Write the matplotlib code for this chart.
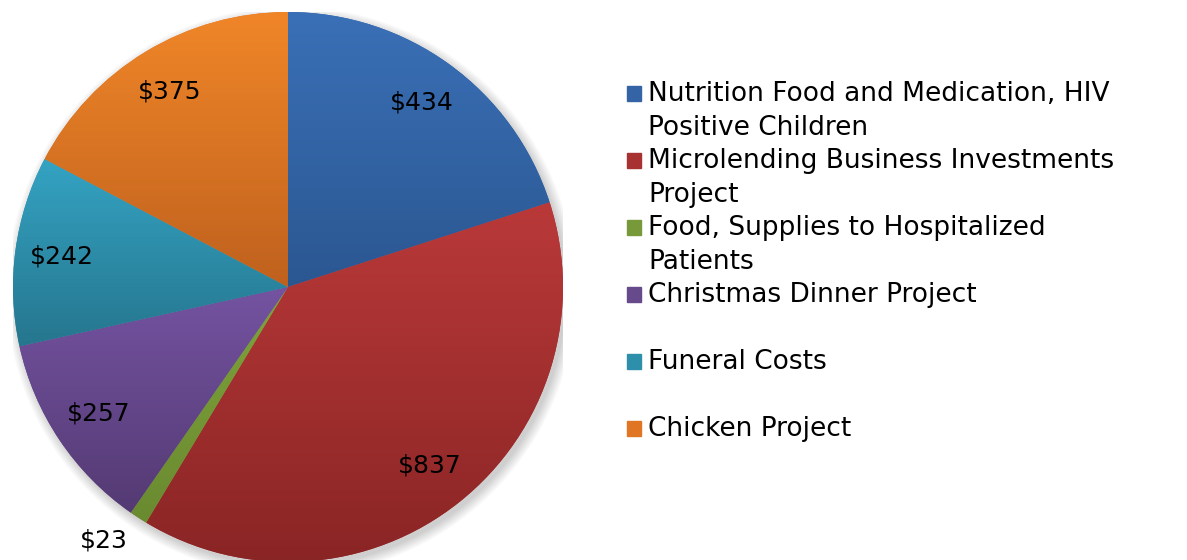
import numpy as np
import matplotlib
matplotlib.use("Agg")
import matplotlib.pyplot as plt
from matplotlib.colors import LinearSegmentedColormap
from matplotlib.patches import Rectangle, Circle

# data
labels = ["Nutrition Food and Medication, HIV\nPositive Children",
          "Microlending Business Investments\nProject",
          "Food, Supplies to Hospitalized\nPatients",
          "Christmas Dinner Project",
          "Funeral Costs",
          "Chicken Project"]
values = [434, 837, 23, 257, 242, 375]
tops = ["#3a70b7", "#ba3939", "#7ea33b", "#7453a1", "#34a3c3", "#f08628"]
bottoms = ["#2b5791", "#8a2525", "#6a8a30", "#543a73", "#26768e", "#bf611e"]
mids = ["#3464a6", "#a83232", "#77993a", "#664a8c", "#2d8faa", "#e07624"]

W, H = 1187, 560
fig = plt.figure(figsize=(W / 100, H / 100), dpi=100)
cx, cy, R = 288, 560 - 287, 275
ax = fig.add_axes([(cx - R) / W, (cy - R) / H, 2 * R / W, 2 * R / H])
ax.set_xlim(-1, 1)
ax.set_ylim(-1, 1)
ax.set_aspect("equal")
ax.axis("off")

# soft shadow
for i in range(8):
    ax.add_patch(Circle((0.012, -0.016), 1.0 + 0.005 * i, color="black",
                        alpha=0.025, lw=0, zorder=0))

wedges, _ = ax.pie(values, startangle=90, counterclock=False, radius=1,
                   colors=mids, wedgeprops=dict(linewidth=0))

grad = np.linspace(0, 1, 256).reshape(-1, 1)
for w, c0, c1 in zip(wedges, tops, bottoms):
    w.set_zorder(1)
    ext = w.get_path().get_extents()
    cmap = LinearSegmentedColormap.from_list("g", [c1, c0])
    im = ax.imshow(grad, cmap=cmap, origin="lower", aspect="auto",
                   extent=[ext.x0, ext.x1, ext.y0, ext.y1], zorder=2,
                   interpolation="bilinear")
    im.set_clip_path(w)
ax.set_xlim(-1, 1)
ax.set_ylim(-1, 1)

# data labels
for w, v in zip(wedges, values):
    ang = np.deg2rad((w.theta1 + w.theta2) / 2)
    dist = 0.83
    if v < 50:
        ang = ang - np.deg2rad(3)
        dist = 1.14
    ax.text(dist * np.cos(ang), dist * np.sin(ang), "\\$%d" % v,
            ha="center", va="center", fontsize=18, color="black", zorder=5,
            clip_on=False)

# legend (Excel style: even slots, swatch beside the first line)
lx, ly0, step, lh = 627, 101, 67, 34
for i, (lab, col) in enumerate(zip(labels, mids)):
    y = ly0 + i * step
    fig.patches.append(Rectangle((lx / W, 1 - y / H), 14 / W, 15 / H,
                                 transform=fig.transFigure, color=col))
    for j, line in enumerate(lab.split("\n")):
        fig.text((lx + 21) / W, 1 - (y + j * lh) / H, line, fontsize=19,
                 ha="left", va="baseline", color="black")

fig.savefig("out.png", dpi=100)
